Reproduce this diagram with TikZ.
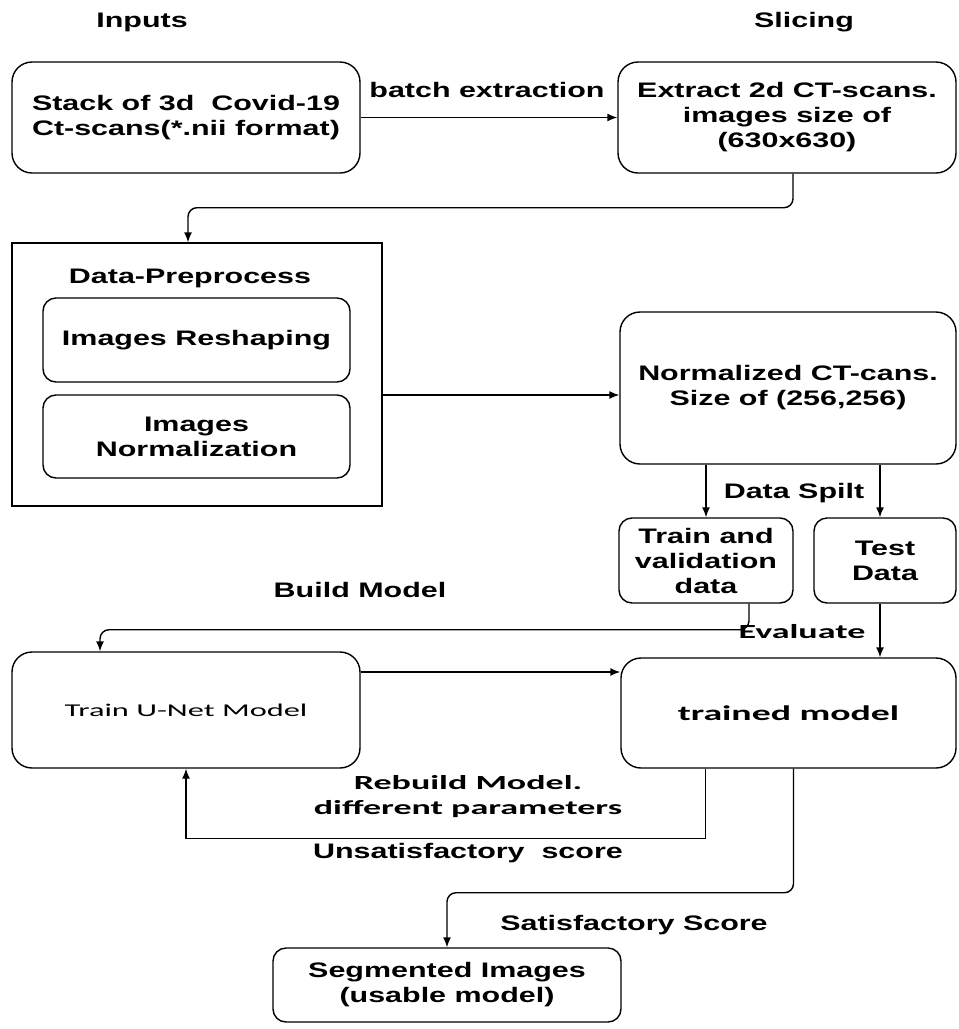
\documentclass[tikz,border=0pt]{standalone}
\usepackage{fontspec}
\usetikzlibrary{arrows.meta,positioning,calc}
\newfontfamily\diafont{Liberation Sans}[FakeStretch=1.45]
\newfontfamily\calfont{Carlito}[FakeStretch=1.8]

\begin{document}
\begin{tikzpicture}[x=1pt,y=-1pt,
      box/.style={draw,line width=1.4pt,rounded corners=20pt,align=center,font=\diafont\bfseries\fontsize{21}{25}\selectfont},
      smallbox/.style={box,rounded corners=13pt},
      frame/.style={draw,line width=1.4pt},
      arr/.style={-{Latex[length=10pt,width=8pt]},line width=1.4pt},
      lbl/.style={align=center,font=\diafont\bfseries\fontsize{21}{25}\selectfont},
      cal/.style={align=center,font=\calfont\bfseries\fontsize{20}{25}\selectfont}
    ]
      \useasboundingbox (0,0) rectangle (959,1029);
      % headings
      \node[lbl] (inputs) at (142,22) {Inputs};
      \node[lbl] (slicing) at (804,22) {Slicing};
      % top row
      \node[box,minimum width=348pt,minimum height=111pt] (a) at (186,117.5) {Stack of 3d\ \ Covid-19\\Ct-scans(*.nii format)};
      \node[box,minimum width=338pt,minimum height=111pt] (b) at (787,117.5) {Extract 2d CT-scans.\\images size of\\(630x630)};
      % preprocessing block
      \node[frame,minimum width=370pt,minimum height=263pt] (c) at (197,374.5) {};
      \node[lbl] (ctitle) at (190,278) {Data-Preprocess};
      \node[smallbox,minimum width=307pt,minimum height=84pt] (c1) at (196.5,340) {Images Reshaping};
      \node[smallbox,minimum width=307pt,minimum height=83pt] (c2) at (196.5,436.5) {Images\\Normalization};
      \node[box,minimum width=336pt,minimum height=152pt] (d) at (788,388) {Normalized CT-cans.\\Size of (256,256)};
      % split
      \node[smallbox,minimum width=174pt,minimum height=85pt] (e) at (706,560.5) {Train and\\validation\\data};
      \node[smallbox,minimum width=142pt,minimum height=85pt] (f) at (885,560.5) {Test\\Data};
      % model row
      \node[box,minimum width=348pt,minimum height=116pt,font=\calfont\fontsize{18}{22}\selectfont] (g) at (186,710) {Train U-Net Model};
      \node[box,minimum width=335pt,minimum height=110pt,font=\calfont\bfseries\fontsize{21}{25}\selectfont] (h) at (788.5,713) {trained model};
      \node[smallbox,minimum width=348pt,minimum height=74pt] (i) at (447,985) {Segmented Images\\(usable model)};
      % connector labels
      \node[lbl] (lbatch) at (487,90) {batch extraction};
      \node[lbl] (lsplit) at (794,493) {Data Spilt};
      \node[lbl] (lbuild) at (360,590) {Build Model};
      \node[cal] (leval) at (802,632) {Evaluate};
      \node[cal] (lrebuild) at (468,797) {Rebuild Model.\\different parameters};
      \node[lbl] (lunsat) at (468,853) {Unsatisfactory\ \ score};
      \node[lbl] (lsat) at (634,925) {Satisfactory Score};
      % connectors
      \draw[arr] (a) -- (b);
      \draw[arr,rounded corners=9pt] ([xshift=6pt]b.south) -- ++(0,34) -| ([xshift=-9pt]c.north);
      \draw[arr] ([yshift=-20.5pt]c.east) -- ([yshift=-7pt]d.west);
      \draw[arr] (d.south -| e.north) -- (e.north);
      \draw[arr] ([xshift=-5pt]d.south -| f.north) -- ([xshift=-5pt]f.north);
      \draw[arr,rounded corners=9pt] ([xshift=43pt]e.south) -- ++(0,26) -| ([xshift=-86pt]g.north);
      \draw[arr] ([xshift=-5pt]f.south) -- ([xshift=-5pt]f.south |- h.north);
      \draw[arr] ([yshift=38pt]g.east) -- ([yshift=41pt]h.west);
      \draw[arr] ([xshift=-83pt]h.south) -- ++(0,70) -| (g.south);
      \draw[arr,rounded corners=9pt] ([xshift=5pt]h.south) -- ++(0,124) -| (i.north);
    \end{tikzpicture}
\end{document}
